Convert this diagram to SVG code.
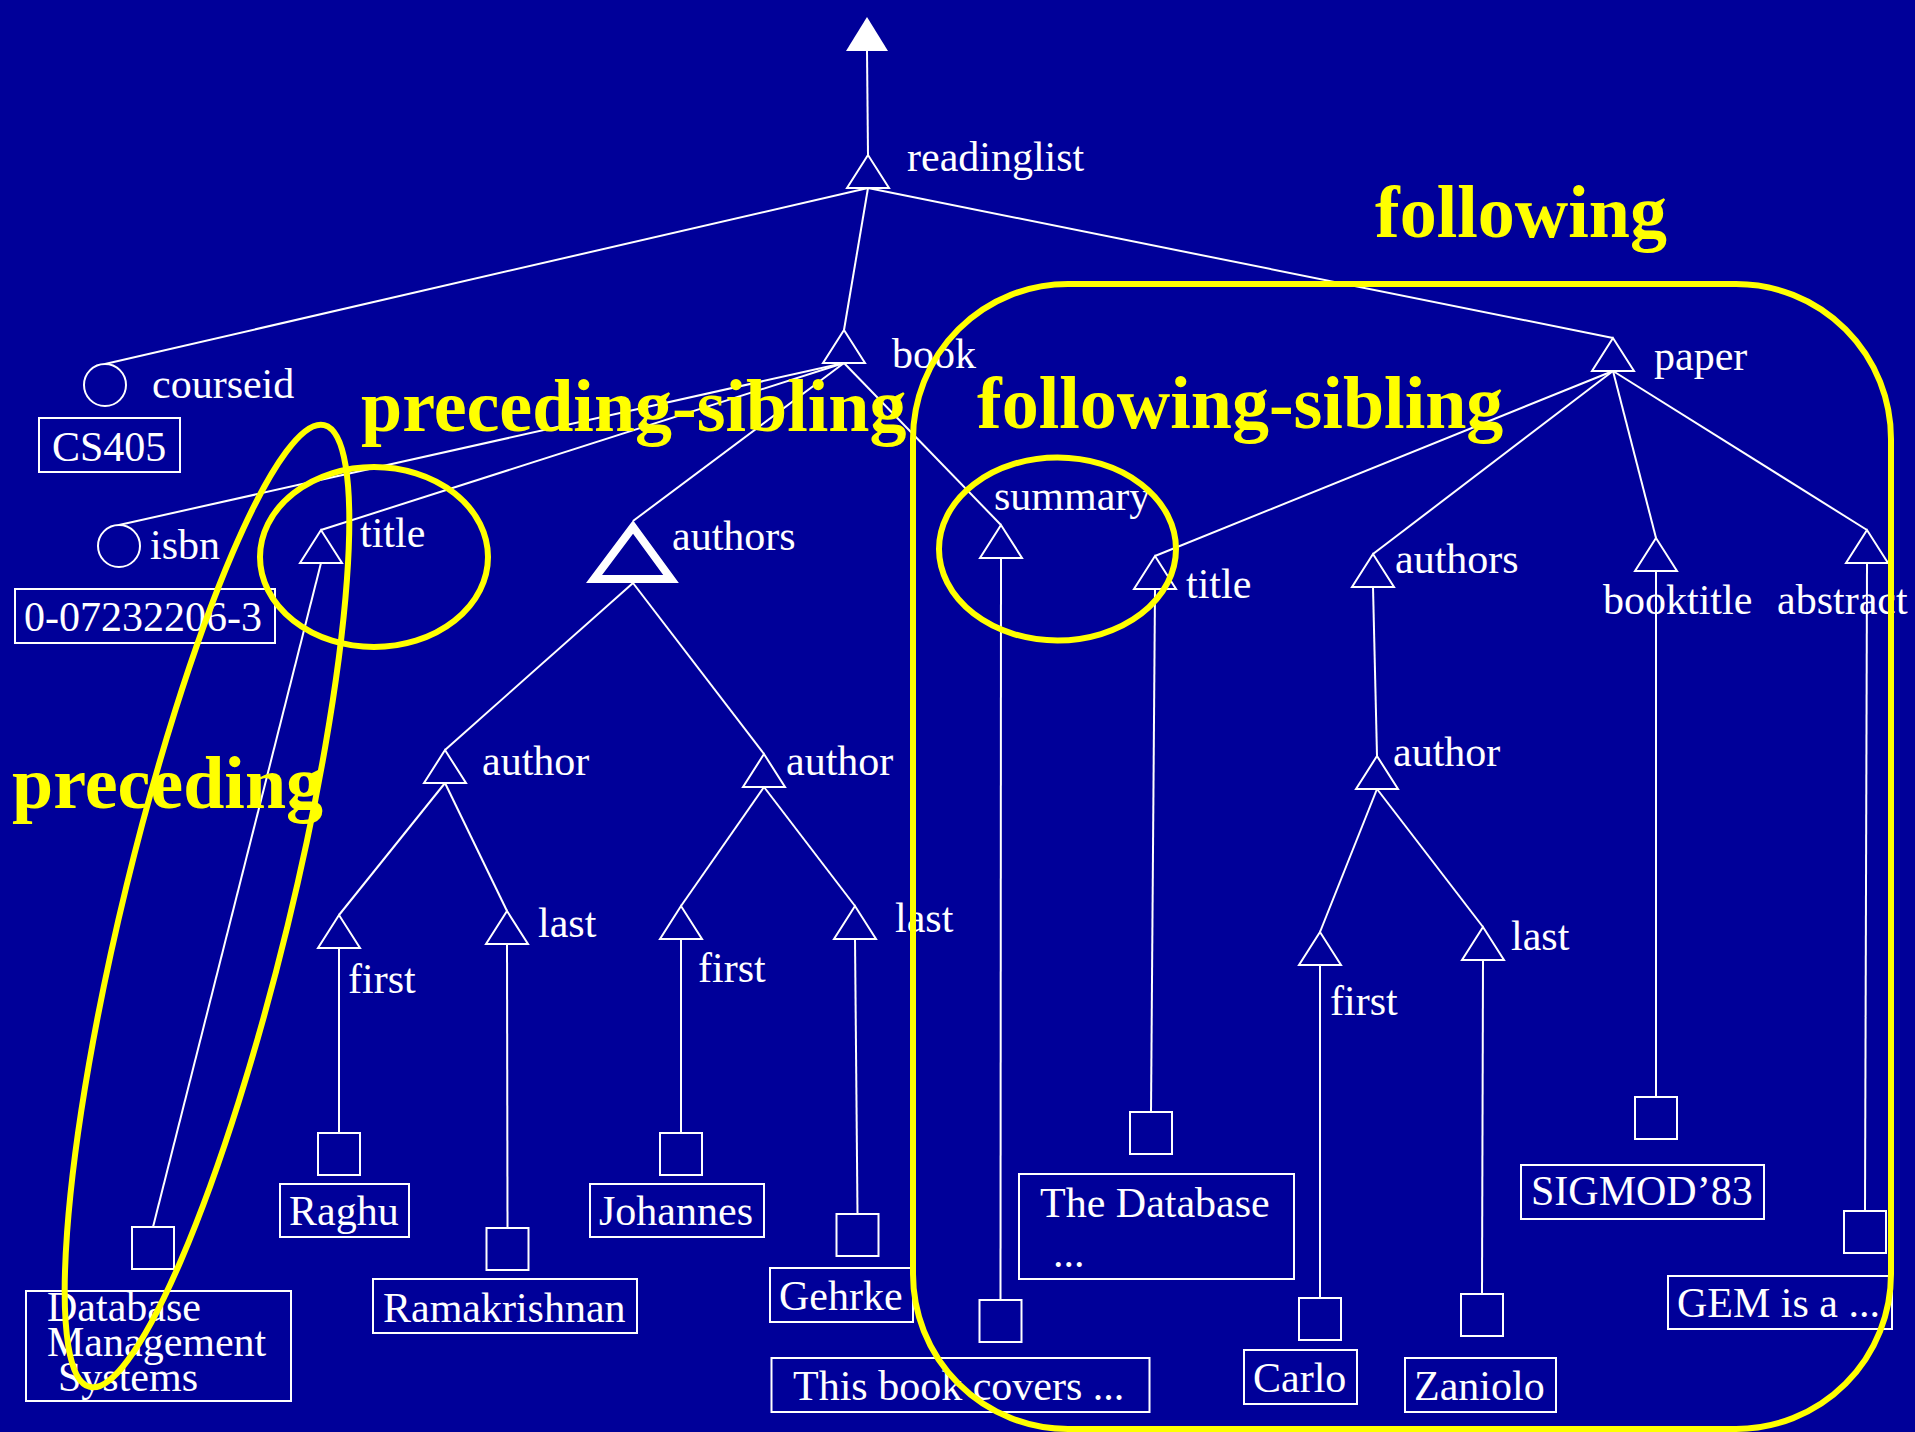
<svg xmlns="http://www.w3.org/2000/svg" xmlns:xlink="http://www.w3.org/1999/xlink" width="1915" height="1432" viewBox="0 0 1915 1432">
  <defs>
    <style>
      .lbl { font-family: "Liberation Serif", "Times New Roman", serif; font-size: 42px; fill: #ffffff; }
      .axis { font-family: "Liberation Serif", "Times New Roman", serif; font-size: 74px; font-weight: bold; fill: #ffff00; }
      .edge { fill: none; stroke: #ffffff; stroke-width: 2; }
      .box { fill: none; stroke: #ffffff; stroke-width: 2; }
      .elem { fill: none; stroke: #ffffff; stroke-width: 2; stroke-linejoin: miter; }
      .ring { fill: none; stroke: #ffff00; stroke-width: 6; }
    </style>
    <path id="tri" d="M0,0 L-21,33 L21,33 Z"/>
    <rect id="leaf" width="42" height="42"/>
  </defs>

  <rect width="1915" height="1432" fill="#000099"/>

  <!-- tree edges -->
  <g id="connectors" class="edge">
    <line x1="868" y1="155" x2="867" y2="51"/>
    <line x1="868" y1="188" x2="105" y2="364"/>
    <line x1="868" y1="188" x2="844" y2="330"/>
    <line x1="868" y1="188" x2="1613" y2="338"/>
    <line x1="844" y1="363" x2="119" y2="525"/>
    <line x1="844" y1="363" x2="321" y2="530"/>
    <line x1="844" y1="363" x2="633" y2="521"/>
    <line x1="844" y1="363" x2="1001" y2="525"/>
    <line x1="321" y1="563" x2="153" y2="1227"/>
    <line x1="633" y1="583" x2="445" y2="750"/>
    <line x1="633" y1="583" x2="764" y2="754"/>
    <line x1="445" y1="783" x2="339" y2="915"/>
    <line x1="445" y1="783" x2="507" y2="911"/>
    <line x1="764" y1="787" x2="681" y2="906"/>
    <line x1="764" y1="787" x2="855" y2="906"/>
    <line x1="339" y1="948" x2="339" y2="1133"/>
    <line x1="507" y1="944" x2="507.5" y2="1228"/>
    <line x1="681" y1="939" x2="681" y2="1133"/>
    <line x1="855" y1="939" x2="857.5" y2="1214"/>
    <line x1="1001" y1="558" x2="1000.5" y2="1300"/>
    <line x1="1613" y1="371" x2="1155" y2="556"/>
    <line x1="1613" y1="371" x2="1373" y2="554"/>
    <line x1="1613" y1="371" x2="1656" y2="538"/>
    <line x1="1613" y1="371" x2="1867" y2="530"/>
    <line x1="1155" y1="589" x2="1151" y2="1112"/>
    <line x1="1373" y1="587" x2="1377" y2="756"/>
    <line x1="1377" y1="789" x2="1320" y2="932"/>
    <line x1="1377" y1="789" x2="1483" y2="927"/>
    <line x1="1320" y1="965" x2="1320" y2="1298"/>
    <line x1="1483" y1="960" x2="1482" y2="1294"/>
    <line x1="1656" y1="571" x2="1656" y2="1097"/>
    <line x1="1867" y1="563" x2="1865" y2="1211"/>
  </g>

  <!-- root pointer -->
  <g id="root">
    <polygon points="867,17 846,51 888,51" fill="#ffffff"/>
  </g>

  <!-- element and attribute nodes -->
  <g id="readinglist">
    <use xlink:href="#tri" class="elem" x="868" y="155"/>
    <text class="lbl" x="907" y="171">readinglist</text>
  </g>
  <g id="courseid">
    <circle class="box" cx="105" cy="385" r="21"/>
    <text class="lbl" x="152" y="398">courseid</text>
    <rect class="box" x="39" y="418" width="141" height="54"/>
    <text class="lbl" x="52" y="461">CS405</text>
  </g>
  <g id="book">
    <use xlink:href="#tri" class="elem" x="844" y="330"/>
    <text class="lbl" x="892" y="368">book</text>
  </g>
  <g id="isbn">
    <circle class="box" cx="119" cy="546" r="21"/>
    <text class="lbl" x="150" y="559">isbn</text>
    <rect class="box" x="15" y="589" width="260" height="54"/>
    <text class="lbl" x="24" y="631">0-07232206-3</text>
  </g>
  <g id="book-title">
    <use xlink:href="#tri" class="elem" x="321" y="530"/>
    <text class="lbl" x="360" y="547">title</text>
    <use xlink:href="#leaf" class="box" x="132" y="1227"/>
    <rect class="box" x="26" y="1291" width="265" height="110"/>
    <text class="lbl" x="47" y="1321">Database</text>
    <text class="lbl" x="47" y="1356">Management</text>
    <text class="lbl" x="58" y="1391">Systems</text>
  </g>
  <g id="book-authors">
    <polygon points="633,527 594,579 671,579" fill="none" stroke="#ffffff" stroke-width="8" stroke-linejoin="miter"/>
    <text class="lbl" x="672" y="550">authors</text>
  </g>
  <g id="author-1">
    <use xlink:href="#tri" class="elem" x="445" y="750"/>
    <text class="lbl" x="482" y="775">author</text>
  </g>
  <g id="first-1">
    <use xlink:href="#tri" class="elem" x="339" y="915"/>
    <text class="lbl" x="348" y="993">first</text>
    <use xlink:href="#leaf" class="box" x="318" y="1133"/>
    <rect class="box" x="280" y="1184" width="129" height="53"/>
    <text class="lbl" x="289" y="1225">Raghu</text>
  </g>
  <g id="last-1">
    <use xlink:href="#tri" class="elem" x="507" y="911"/>
    <text class="lbl" x="538" y="937">last</text>
    <use xlink:href="#leaf" class="box" x="486.5" y="1228"/>
    <rect class="box" x="373" y="1279" width="264" height="54"/>
    <text class="lbl" x="383" y="1322">Ramakrishnan</text>
  </g>
  <g id="author-2">
    <use xlink:href="#tri" class="elem" x="764" y="754"/>
    <text class="lbl" x="786" y="775">author</text>
  </g>
  <g id="first-2">
    <use xlink:href="#tri" class="elem" x="681" y="906"/>
    <text class="lbl" x="698" y="982">first</text>
    <use xlink:href="#leaf" class="box" x="660" y="1133"/>
    <rect class="box" x="590" y="1184" width="174" height="53"/>
    <text class="lbl" x="599" y="1225">Johannes</text>
  </g>
  <g id="last-2">
    <use xlink:href="#tri" class="elem" x="855" y="906"/>
    <text class="lbl" x="895" y="932">last</text>
    <use xlink:href="#leaf" class="box" x="836.5" y="1214"/>
    <rect class="box" x="770" y="1268" width="143" height="54"/>
    <text class="lbl" x="779" y="1310">Gehrke</text>
  </g>
  <g id="summary">
    <use xlink:href="#tri" class="elem" x="1001" y="525"/>
    <text class="lbl" x="994" y="510">summary</text>
    <use xlink:href="#leaf" class="box" x="979.5" y="1300"/>
    <rect class="box" x="771.5" y="1358" width="378" height="54"/>
    <text class="lbl" x="793" y="1400">This book covers ...</text>
  </g>
  <g id="paper">
    <use xlink:href="#tri" class="elem" x="1613" y="338"/>
    <text class="lbl" x="1654" y="370">paper</text>
  </g>
  <g id="paper-title">
    <use xlink:href="#tri" class="elem" x="1155" y="556"/>
    <text class="lbl" x="1186" y="598">title</text>
    <use xlink:href="#leaf" class="box" x="1130" y="1112"/>
    <rect class="box" x="1019" y="1174" width="275" height="105"/>
    <text class="lbl" x="1040" y="1217">The Database</text>
    <text class="lbl" x="1053" y="1267">...</text>
  </g>
  <g id="paper-authors">
    <use xlink:href="#tri" class="elem" x="1373" y="554"/>
    <text class="lbl" x="1395" y="573">authors</text>
  </g>
  <g id="author-3">
    <use xlink:href="#tri" class="elem" x="1377" y="756"/>
    <text class="lbl" x="1393" y="766">author</text>
  </g>
  <g id="first-3">
    <use xlink:href="#tri" class="elem" x="1320" y="932"/>
    <text class="lbl" x="1330" y="1015">first</text>
    <use xlink:href="#leaf" class="box" x="1299" y="1298"/>
    <rect class="box" x="1244" y="1350" width="113" height="54"/>
    <text class="lbl" x="1253" y="1392">Carlo</text>
  </g>
  <g id="last-3">
    <use xlink:href="#tri" class="elem" x="1483" y="927"/>
    <text class="lbl" x="1511" y="950">last</text>
    <use xlink:href="#leaf" class="box" x="1461" y="1294"/>
    <rect class="box" x="1405" y="1358" width="151" height="54"/>
    <text class="lbl" x="1414" y="1400">Zaniolo</text>
  </g>
  <g id="booktitle">
    <use xlink:href="#tri" class="elem" x="1656" y="538"/>
    <text class="lbl" x="1603" y="614">booktitle</text>
    <use xlink:href="#leaf" class="box" x="1635" y="1097"/>
    <rect class="box" x="1521" y="1165" width="243" height="54"/>
    <text class="lbl" x="1531" y="1205">SIGMOD’83</text>
  </g>
  <g id="abstract">
    <use xlink:href="#tri" class="elem" x="1867" y="530"/>
    <text class="lbl" x="1777" y="614">abstract</text>
    <use xlink:href="#leaf" class="box" x="1844" y="1211"/>
    <rect class="box" x="1668" y="1276" width="224" height="53"/>
    <text class="lbl" x="1677" y="1317">GEM is a ...</text>
  </g>

  <!-- axis regions -->
  <g id="axes">
    <rect class="ring" x="913" y="284" width="978" height="1145" rx="155" ry="155"/>
    <ellipse class="ring" cx="374" cy="557" rx="114" ry="90"/>
    <ellipse class="ring" cx="1057.5" cy="549" rx="118.5" ry="91.5"/>
    <ellipse class="ring" cx="207" cy="906" rx="83" ry="495" transform="rotate(13.7 207 906)"/>
    <text class="axis" x="1375" y="237">following</text>
    <text class="axis" x="361" y="431">preceding-sibling</text>
    <text class="axis" x="977" y="428">following-sibling</text>
    <text class="axis" x="12" y="808">preceding</text>
  </g>
</svg>
